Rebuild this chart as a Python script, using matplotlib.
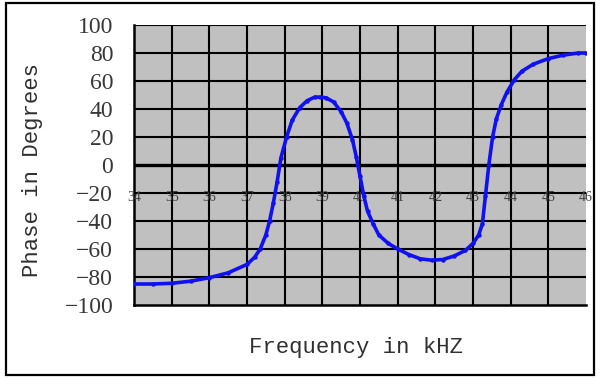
import numpy as np
import matplotlib
matplotlib.use('Agg')
from matplotlib import pyplot as plt
from matplotlib.patches import Rectangle

# phase response
freq = [34.0, 34.5, 35.0, 35.5, 36.0, 36.5, 37.0, 37.2, 37.35, 37.5, 37.6, 37.7,
        37.8, 37.9, 38.05, 38.2, 38.4, 38.6, 38.8, 38.95, 39.1, 39.3, 39.5, 39.65,
        39.8, 39.9, 40.0, 40.1, 40.2, 40.35, 40.5, 40.75, 41.0, 41.3, 41.6, 41.9,
        42.2, 42.5, 42.8, 43.0, 43.15, 43.25, 43.33, 43.42, 43.52, 43.62, 43.75,
        43.9, 44.1, 44.3, 44.6, 45.0, 45.4, 45.8, 46.0]
phase = [-85, -85, -84.5, -83, -80.5, -77, -71, -66, -60, -50, -40, -27,
         -12, 5, 20, 32, 41, 46, 48.5, 48.5, 48, 45, 38, 30,
         18, 6, -8, -22, -33, -42, -50, -56, -60, -64, -67, -68,
         -67.5, -65, -61, -56, -50, -42, -22, 0, 20, 33, 43,
         52, 61, 67, 72, 76, 78.5, 80, 80]

xticks = list(range(34, 47))
yticks = list(range(-100, 101, 20))

fig = plt.figure(figsize=(6, 3.78), dpi=100)
ax = fig.add_axes([134 / 600, 1 - 305 / 378, 452 / 600, 280 / 378])
ax.set_facecolor('#c0c0c0')

ax.plot(freq, phase, color='#1010f0', lw=2.6, marker='o', ms=2.2, zorder=5)

ax.set_xlim(34, 46)
ax.set_ylim(-100, 100)
ax.set_yticks(yticks)
ax.set_xticks(xticks)
ax.tick_params(length=0)
ax.set_xticklabels([])
ax.set_yticklabels([str(t).replace('-', '\u2212') for t in yticks],
                   fontfamily='Liberation Serif', fontsize=17, color='#383838')
ax.tick_params(axis='y', pad=15)

# grid drawn as lines so the zero line can be heavier
for x in xticks[1:-1]:
    ax.axvline(x, color='black', lw=1.5, zorder=2)
for y in yticks[1:]:
    ax.axhline(y, color='black', lw=2.4 if y == 0 else 1.5, zorder=2)

for s in ['top', 'right']:
    ax.spines[s].set_visible(False)
ax.spines['left'].set_linewidth(1.8)
ax.spines['bottom'].set_linewidth(1.8)

# frequency labels sit under the zero line
for x in xticks:
    ax.text(x, -23, str(x), ha='center', va='center', fontsize=10,
            fontfamily='Liberation Serif', color='#404040', zorder=3)

fig.text(33 / 600, 1 - 170 / 378, 'Phase in Degrees', rotation=90, ha='center', va='center',
         fontfamily='Liberation Mono', fontsize=16, color='#303030')
fig.text(356 / 600, 1 - 348 / 378, 'Frequency in kHZ', ha='center', va='center',
         fontfamily='Liberation Mono', fontsize=16, color='#303030')

fig.patches.append(Rectangle((6 / 600, 3 / 378), 588 / 600, 372 / 378,
                             transform=fig.transFigure, fill=False, lw=1.6, ec='black'))

plt.savefig('out.png', dpi=100)
